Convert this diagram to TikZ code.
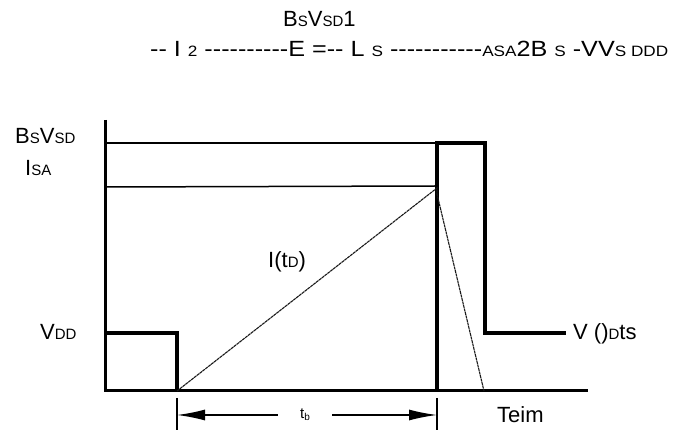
\documentclass[tikz,border=0pt]{standalone}
\usepackage{fontspec}
\setmainfont{Liberation Sans}
\usetikzlibrary{arrows.meta}
\newcommand{\smc}[1]{{\fontsize{15pt}{15pt}\selectfont #1}}
\begin{document}
\begin{tikzpicture}[x=1pt,y=1pt,
  lbl/.style={inner sep=0pt, anchor=base west, font=\fontsize{22pt}{22pt}\selectfont},
  heavy/.style={line width=4pt},
  thinl/.style={line width=1.5pt},
  axisl/.style={line width=3pt},
  ramp/.style={line width=1.1pt, black!90, dash pattern=on 3pt off 0.6pt},
  dimarrow/.style={line width=1.5pt, -{Latex[length=28pt,width=11pt]}},
  tickl/.style={line width=1.2pt}]
\useasboundingbox (0,0) rectangle (686,430);
% titles
\node[lbl] (t1) at (283,403) {B\smc{S}V\smc{SD}1};
\node[lbl] (t2) at (150,373) {\resizebox{518pt}{\height}{-{}- I \smc{2} -{}-{}-{}-{}-{}-{}-{}-{}-{}-E =-{}- L \smc{S} -{}-{}-{}-{}-{}-{}-{}-{}-{}-{}-\smc{ASA}2B \smc{S} -VV\smc{S DDD}}};
% axes
\draw[axisl] (105,310) -- (105,39) -- (588,39);
\draw[thinl] (105,287) -- (437,287);
\draw[thinl] (105,243) -- (437,244);
% VDD pulse
\draw[heavy] (105,97) -- (177,97) -- (177,39);
% high pulse
\draw[heavy] (437,39) -- (437,287) -- (485,287) -- (485,97) -- (566,97);
% ramp
\draw[ramp] (177,39) -- (437,242) -- (437,236) -- (484,39);
% labels
\node[lbl] (bsv) at (15,286) {B\smc{S}V\smc{SD}};
\node[lbl] (isa) at (25,254) {I\smc{SA}};
\node[lbl] (vdd) at (40,90) {V\smc{DD}};
\node[lbl] (itd) at (268,162) {I(t\smc{D})};
\node[lbl] (vdts) at (573,90) {V ()\smc{D}ts};
\node[lbl] (teim) at (497,7) {Teim};
% dimension
\draw[tickl] (177,32) -- (177,0);
\draw[tickl] (437,32) -- (437,0);
\coordinate (la) at (177,15);
\coordinate (ra) at (437,15);
\node[inner sep=0pt, minimum width=54pt, font=\fontsize{15pt}{15pt}\selectfont] (tb) at (305,15) {t\raisebox{-2pt}{\fontsize{10pt}{10pt}\selectfont b}};
\draw[dimarrow] (tb.west) -- (la);
\draw[dimarrow] (tb.east) -- (ra);
\end{tikzpicture}
\end{document}
